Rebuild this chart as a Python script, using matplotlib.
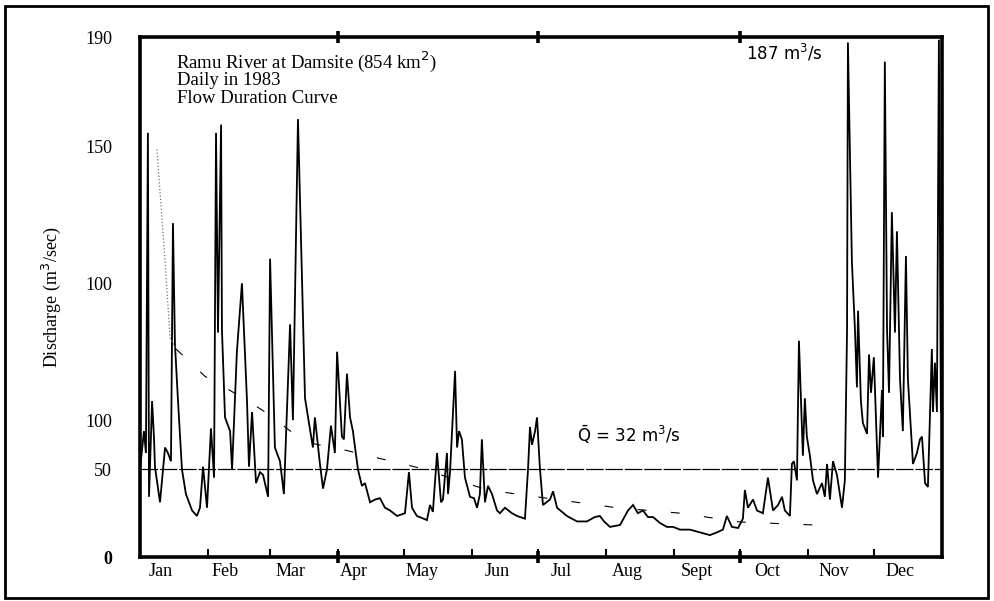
'''
Ramu River at Damsite - daily hydrograph 1983 with flow duration curve
'''
# import libraries ----------------------------------------
import matplotlib.pyplot as plt
from matplotlib.patches import Rectangle

# data ----------------------------------------------------
# daily discharge (day of year, m3/s):
day = [0, 1.8, 2.7, 3.6, 4.1, 5.5, 6.4, 6.8, 9.1, 11.4, 12.7, 14.1, 15, 15.9,
       17.3, 19.1, 20.9, 23.7, 25.9, 27.3, 28.7, 30.5, 32.3, 33.7, 34.6, 35.5,
       36.9, 37.3, 38.7, 41, 41.9, 44.1, 46.4, 48.7, 49.6, 51, 52.8, 54.6, 56,
       58.3, 59.2, 61.4, 63.7, 65.5, 68.3, 69.6, 71.9, 75.1, 76.5, 78.7, 79.6,
       81.9, 83.3, 85.1, 86.9, 88.7, 89.7, 91.9, 92.8, 94.2, 95.6, 96.9, 99.2,
       101, 102.4, 104.7, 107, 109.2, 111.5, 113.8, 117, 120.6, 122.4, 123.8,
       126, 130.6, 132, 133.3, 135.2, 137, 137.9, 139.7, 140.2, 141.1, 143.4,
       144.3, 145.2, 146.5, 147.9, 150.2, 152, 153.4, 154.7, 155.6, 157, 158.4,
       160.2, 162.5, 163.8, 166.1, 169.3, 171.6, 175.2, 176.6, 177.5, 178.4,
       179.8, 180.7, 182, 183.4, 186.6, 188, 189.8, 194.3, 198.9, 203.4, 207,
       209.3, 211.2, 213.9, 218.5, 222.1, 224.4, 226.6, 228.9, 231.2, 233.5,
       236.7, 239.8, 242.6, 245.8, 250.3, 254.9, 259.4, 262.6, 265.3, 267.1,
       269.4, 272.2, 274.4, 275.3, 276.7, 279, 280.8, 283.5, 285.8, 288.1,
       290.4, 292.2, 293.5, 295.8, 296.7, 297.6, 299, 299.9, 301.7, 302.6,
       303.5, 304.9, 306.3, 308.1, 310.4, 311.7, 312.7, 314, 315.4, 317.2,
       319.5, 320.8, 321.8, 322.2, 324, 325.4, 326.3, 326.8, 328.1, 329, 330.9,
       331.8, 332.7, 334, 335.9, 337.7, 338.1, 339, 340, 340.9, 342.2, 343.6,
       344.5, 345.9, 347.2, 348.6, 349.5, 351.8, 353.6, 355, 355.9, 357.3,
       358.6, 360.4, 360.9, 361.8, 362.7, 363.6, 364.5]
flow = [32, 46, 38, 155, 22, 57, 43, 33, 20, 40, 38, 35, 122, 78,
        57, 32, 23, 17, 15, 18, 33, 18, 47, 29, 155, 82,
        158, 83, 51, 46, 32, 75, 100, 57, 33, 53, 27, 31, 30,
        22, 109, 40, 35, 23, 85, 50, 160, 58, 51, 40, 51,
        34, 25, 32, 48, 38, 75, 44, 43, 67, 51, 46, 32,
        26, 27, 20, 21, 21.5, 18, 17, 15, 16, 31, 18,
        15, 13.5, 19, 16.5, 38, 20, 21, 38, 23, 31, 68,
        40, 46, 43, 29, 22, 21.5, 18, 23, 43, 20, 26,
        23, 17, 16, 18, 16, 15, 14, 32, 47.5, 41,
        46, 51, 32.5, 19, 21, 24, 18, 15, 13, 13, 14.6,
        15, 13, 11, 11.7, 17, 19, 16, 17, 14.6, 14.6,
        12.4, 11, 11, 10, 10, 9, 8, 9, 10, 15,
        11, 10.6, 14, 24.5, 18, 21, 17, 16, 29, 17,
        19, 22, 17, 15, 34, 35, 28, 79, 37, 58,
        44, 37, 28, 23, 27, 22, 34, 21, 35, 30,
        18, 28, 83, 188, 108, 83, 62, 90, 57, 49, 45,
        74, 60, 73, 29, 61, 44, 181, 83, 60, 126, 82,
        119, 65, 46, 110, 65, 34, 38, 43, 44, 27,
        25.6, 76, 53, 71, 53, 189, 53]

# flow duration curve (plotted on the same time base):
fdc_day = [7.7, 11.4, 13.7, 16.4, 29.6, 36.4, 49.2, 56.9, 75.1, 91, 127.4,
           158, 185, 217, 246, 273, 307]
fdc_flow = [149, 108, 80, 76, 66, 63, 57, 53, 42, 39.5, 32.5,
            24.5, 21.5, 18, 16, 12.8, 11.7]

mean_flow = 32

month_start = [0, 31, 59, 90, 120, 151, 181, 212, 243, 273, 304, 334, 365]
quarter_start = [90, 181, 273]
month_names = ['Jan', 'Feb', 'Mar', 'Apr', 'May', 'Jun', 'Jul', 'Aug',
               'Sept', 'Oct', 'Nov', 'Dec']
month_label_day = [9.6, 38.7, 68.3, 97.3, 128.4, 162.5, 191.6, 221.6,
                   253.5, 285.4, 315.9, 345.9]

y_label_pos = [0, 32, 50, 100, 150, 190]
y_label_text = ['0', '50', '100', '100', '150', '190']
y_mark_pos = [50, 100, 150, 190]

# plot ----------------------------------------------------
serif = 'Liberation Serif'
fig = plt.figure(figsize=(9.95, 6.01), dpi=100)
ax = fig.add_axes([0.1407, 0.0732, 0.806, 0.8652])

# hydrograph:
ax.plot(day, flow, color='k', lw=1.3, solid_joinstyle='miter')

# duration curve:
ax.plot(fdc_day[:4], fdc_flow[:4], color='0.45', lw=0.9, ls=':')
ax.plot(fdc_day[3:], fdc_flow[3:], color='k', lw=0.8, ls=(0, (8, 22)))

# mean line:
ax.axhline(mean_flow, color='k', lw=0.9, ls=(0, (14, 1.5)))

# set parameters:
ax.set_xlim(0, 365)
ax.set_ylim(0, 190)
for s in ax.spines.values():
    s.set_linewidth(2.6)

ax.set_xticks(month_label_day)
ax.set_xticklabels(month_names, fontname=serif, fontsize=13)
ax.set_xticks(month_start, minor=True)
ax.tick_params('x', which='major', length=0, pad=4)
ax.tick_params('x', which='minor', direction='in', length=6, width=1.5)

ax.set_yticks(y_label_pos)
ax.set_yticklabels(y_label_text, fontname=serif, fontsize=13)
ax.get_yticklabels()[0].set_fontweight('bold')
ax.set_yticks(y_mark_pos, minor=True)
ax.tick_params('y', which='major', length=0, pad=20)
ax.tick_params('y', which='minor', direction='inout', length=12, width=2.6,
               left=True, right=True)

# quarter marks on top and bottom:
top = ax.secondary_xaxis('top')
top.set_xticks(quarter_start)
top.set_xticklabels([])
top.tick_params(direction='inout', length=9, width=2.6)
bot = ax.secondary_xaxis('bottom')
bot.set_xticks(quarter_start)
bot.set_xticklabels([])
bot.tick_params(direction='inout', length=9, width=2.6)

ax.set_ylabel('Discharge (m$^3$/sec)', fontname=serif, fontsize=13, labelpad=16)

# annotations:
ax.text(16.5, 181, 'Ramu River at Damsite (854 km$^2$)', fontname=serif,
        fontsize=13.5, va='center')
ax.text(17, 174, 'Daily in 1983', fontname=serif, fontsize=13.5, va='center')
ax.text(17, 167.5, 'Flow Duration Curve', fontname=serif, fontsize=13.5,
        va='center')
ax.text(276, 184, '187 m$^3$/s', fontsize=12, va='center')
ax.text(199, 44.5, r'$\bar{\mathrm{Q}}$ = 32 m$^3$/s', fontsize=12, va='center')

# outer frame:
fig.patches.append(Rectangle((0.005, 0.005), 0.988, 0.985, transform=fig.transFigure,
                             fill=False, lw=2, ec='k'))

# save:
plt.savefig('out.png', dpi=100)

# end program ---------------------------------------------
